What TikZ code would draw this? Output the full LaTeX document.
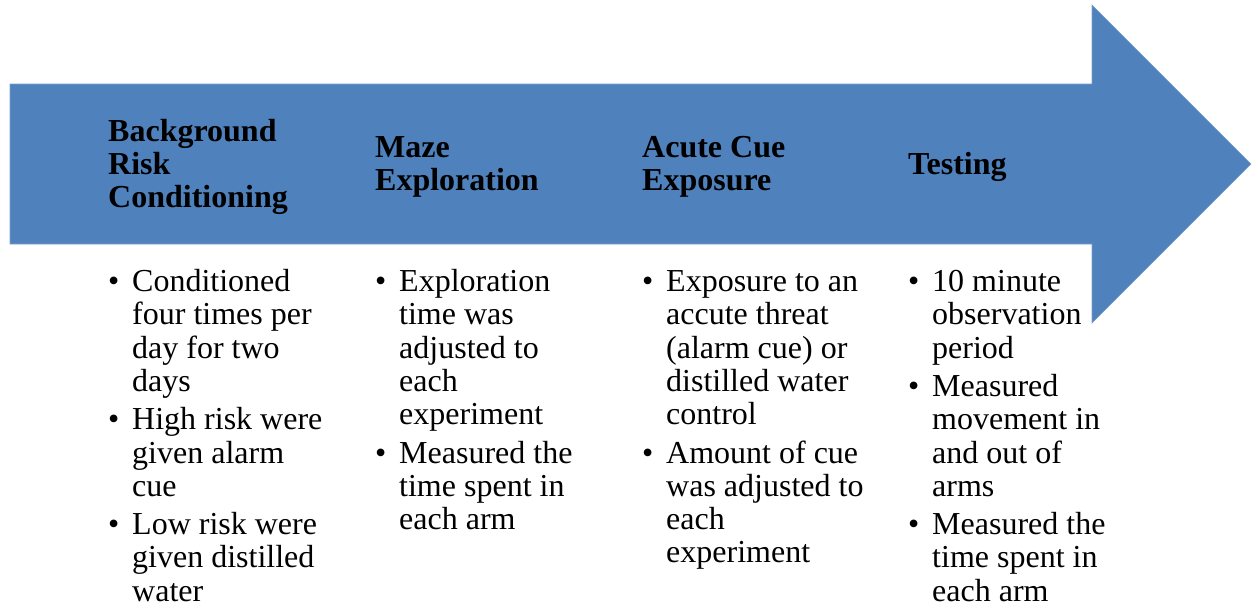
\documentclass[tikz,border=0pt]{standalone}
\usepackage{fontspec}
\setmainfont{Liberation Serif}
\usepackage{enumitem}
\usepackage{tikz}

\definecolor{stepblue}{HTML}{4F81BD}
% bullets with fixed word spaces, no shrinking
\setlist[itemize]{label=\textbullet,leftmargin=24pt,labelindent=0pt,
  labelwidth=24pt,labelsep=0pt,align=left,itemsep=5pt,parsep=0pt,
  topsep=0pt,partopsep=0pt,before={\raggedright\spaceskip=.25em\relax}}

\begin{document}
\begin{tikzpicture}[x=1pt,y=-1pt,
  head/.style={anchor=west,align=flush left,inner sep=0pt,
    font=\bfseries\fontsize{32}{33}\selectfont},
  notes/.style={anchor=north west,text width=223pt,align=flush left,
    inner sep=0pt,font=\fontsize{32}{33.3}\selectfont}]
  \useasboundingbox (0,0) rectangle (1258,613);
  % the block arrow behind the step titles
  \fill[stepblue,draw=stepblue!75!white,line width=0.6pt]
    (10,84) -- (1092,84) -- (1092,5) -- (1251,164)
    -- (1092,323) -- (1092,244) -- (10,244) -- cycle;
  % step titles
  \node[head] (bg)   at (108,166.5) {Background\\Risk\\Conditioning};
  \node[head] (maze) at (375,166.5) {Maze\\Exploration};
  \node[head] (cue)  at (642,166.5) {Acute Cue\\Exposure};
  \node[head] (test) at (908,166.5) {Testing};
  % what happens in each step
  \node[notes] (bgnotes) at (108,258) {\begin{itemize}
    \item Conditioned four times per day for two days
    \item High risk were given alarm cue
    \item Low risk were given distilled water
  \end{itemize}};
  \node[notes] (mazenotes) at (375,258) {\begin{itemize}
    \item Exploration time was adjusted to each experiment
    \item Measured the time spent in each arm
  \end{itemize}};
  \node[notes] (cuenotes) at (642,258) {\begin{itemize}
    \item Exposure to an accute threat (alarm cue) or distilled water control
    \item Amount of cue was adjusted to each experiment
  \end{itemize}};
  \node[notes] (testnotes) at (908,258) {\begin{itemize}
    \item 10 minute observation period
    \item Measured movement in and out of arms
    \item Measured the time spent in each arm
  \end{itemize}};
\end{tikzpicture}
\end{document}
